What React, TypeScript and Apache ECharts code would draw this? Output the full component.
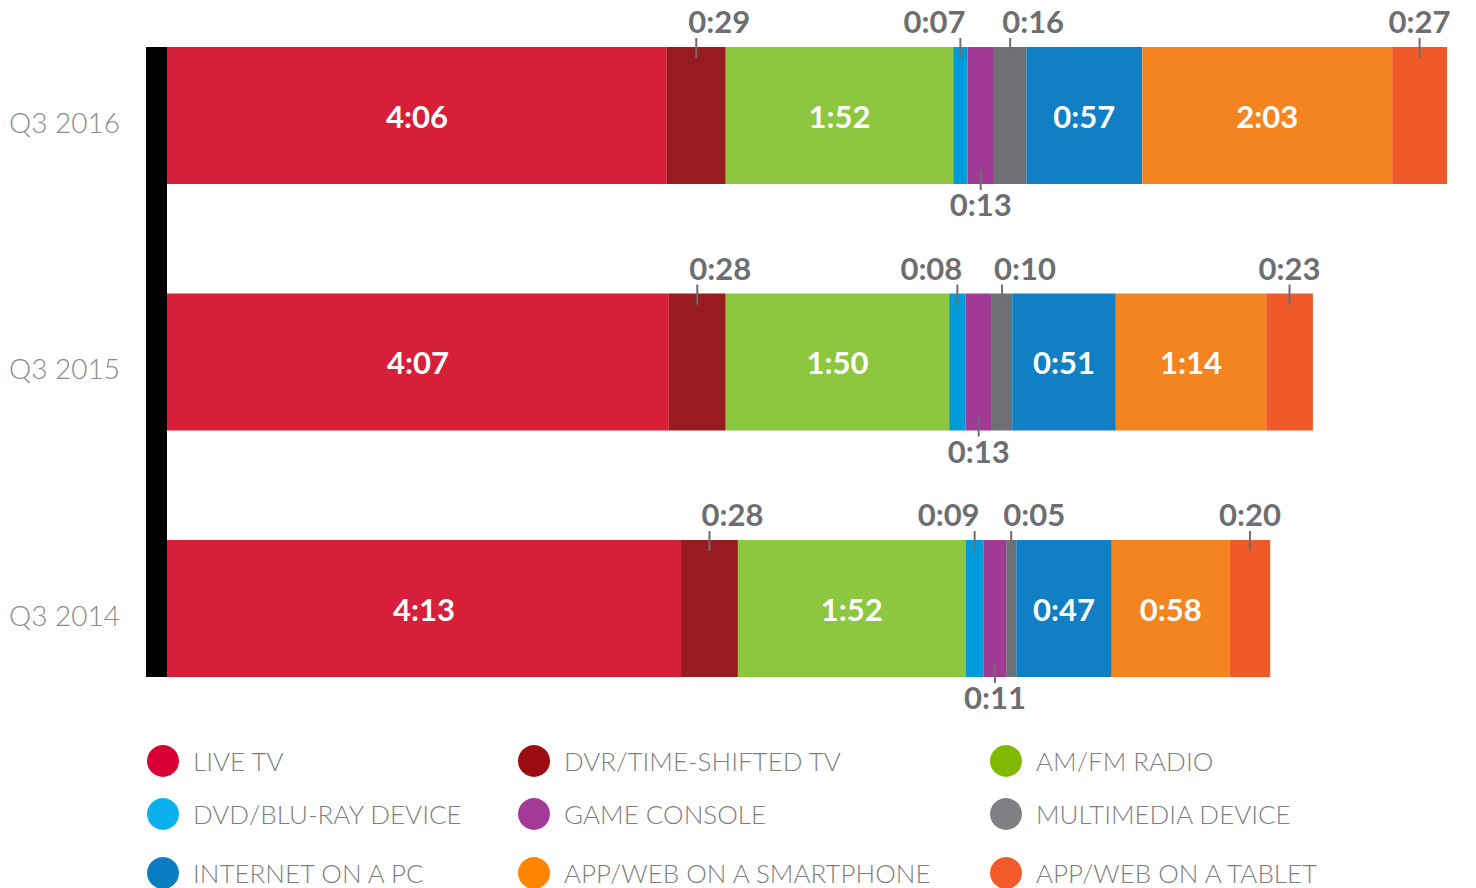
import React, { useEffect, useRef } from "react";
import * as echarts from "echarts";

const categories = ["Q3 2014", "Q3 2015", "Q3 2016"];
const seriesNames = [
  "LIVE TV",
  "DVR/TIME-SHIFTED TV",
  "AM/FM RADIO",
  "DVD/BLU-RAY DEVICE",
  "GAME CONSOLE",
  "MULTIMEDIA DEVICE",
  "INTERNET ON A PC",
  "APP/WEB ON A SMARTPHONE",
  "APP/WEB ON A TABLET",
];
// minutes per day, order: Q3 2014, Q3 2015, Q3 2016
const liveTV = [253, 247, 246];
const dvr = [28, 28, 29];
const radio = [112, 110, 112];
const dvd = [9, 8, 7];
const gameConsole = [11, 13, 13];
const multimedia = [5, 10, 16];
const internetPC = [47, 51, 57];
const smartphone = [58, 74, 123];
const tablet = [20, 23, 27];
const seriesValues = [liveTV, dvr, radio, dvd, gameConsole, multimedia, internetPC, smartphone, tablet];

const barColors = ["#D71F3A", "#981B1F", "#8DC63F", "#009BD8", "#A03A94", "#6F7075", "#107FC3", "#F48420", "#F05A28"];
const legendColors = ["#D90036", "#9B0D12", "#7FBA00", "#0CB0EC", "#A23A96", "#808084", "#0A7DC2", "#FF8500", "#F35A29"];
const insideLabelSeries = [0, 2, 6, 7];
// outside label placement: side, text align, x offset from tick
const outsideLabels: Record<number, { side: string; align: string; dx: number }> = {
  1: { side: "top", align: "left", dx: -8 },
  3: { side: "top", align: "right", dx: 5 },
  4: { side: "bottom", align: "center", dx: 0 },
  5: { side: "top", align: "left", dx: -8 },
  8: { side: "top", align: "center", dx: 0 },
};

const fmt = (m: number) => `${Math.floor(m / 60)}:${String(m % 60).padStart(2, "0")}`;
const BAR_H = 137;
const FONT = "Lato, 'Noto Sans', sans-serif";
const LABEL_GRAY = "#6D6E71";
const LABEL_WEIGHT = "bold";
const LABEL_SIZE = 31;

export default function App() {
  const ref = useRef<HTMLDivElement>(null);
  useEffect(() => {
    document.body.style.margin = "0";
    if (!ref.current) return;
    const chart = echarts.init(ref.current, null, { renderer: "svg" });

    const barSeries = seriesNames.map((name, si) => ({
      name,
      type: "bar",
      stack: "total",
      barWidth: BAR_H,
      clip: false,
      itemStyle: { color: barColors[si] },
      emphasis: { disabled: true },
      label: {
        show: insideLabelSeries.includes(si),
        position: "inside",
        color: "#fff",
        fontFamily: FONT,
        fontWeight: LABEL_WEIGHT,
        fontSize: LABEL_SIZE,
        formatter: (p: any) => fmt(p.value),
      },
      data: seriesValues[si],
    }));

    const annotation = {
      type: "custom",
      name: "annotations",
      silent: true,
      clip: false,
      z: 10,
      data: categories.map((_, i) => [0, i]),
      renderItem: (params: any, api: any) => {
        const ci = params.dataIndex;
        const children: any[] = [];
        let cum = 0;
        const center = api.coord([0, ci]);
        const top = center[1] - BAR_H / 2;
        const bottom = center[1] + BAR_H / 2;
        seriesValues.forEach((vals, si) => {
          const v = vals[ci];
          const x0 = api.coord([cum, ci])[0];
          const x1 = api.coord([cum + v, ci])[0];
          cum += v;
          const cfg = outsideLabels[si];
          if (!cfg) return;
          const xm = (x0 + x1) / 2;
          const isTop = cfg.side === "top";
          children.push({
            type: "line",
            shape: isTop
              ? { x1: xm, y1: top - 9, x2: xm, y2: top + 11 }
              : { x1: xm, y1: bottom - 14, x2: xm, y2: bottom + 6 },
            style: { stroke: LABEL_GRAY, lineWidth: 2 },
          });
          children.push({
            type: "text",
            style: {
              text: fmt(v),
              x: xm + cfg.dx,
              y: isTop ? top - 26 : bottom + 20,
              align: cfg.align,
              verticalAlign: "middle",
              fill: LABEL_GRAY,
              font: `${LABEL_WEIGHT} ${LABEL_SIZE}px ${FONT}`,
            },
          });
        });
        if (ci === 0) {
          const topBar = api.coord([0, categories.length - 1])[1] - BAR_H / 2;
          const x = api.coord([0, ci])[0];
          children.push({
            type: "rect",
            shape: { x: x - 21, y: topBar, width: 21, height: bottom - topBar },
            style: { fill: "#000" },
          });
        }
        return { type: "group", children };
      },
    };

    const cols = [147, 518, 990];
    const rows = [745, 798, 857];
    const legends = seriesNames.map((name, si) => ({
      show: true,
      left: cols[si % 3],
      top: rows[Math.floor(si / 3)],
      orient: "horizontal",
      padding: 0,
      icon: "circle",
      itemWidth: 32,
      itemHeight: 32,
      selectedMode: false,
      textStyle: { fontFamily: FONT, fontSize: 26, fontWeight: 300, color: "#7F7F7F", padding: [0, 0, 0, 9] },
      data: [{ name, itemStyle: { color: legendColors[si] } }],
    }));

    chart.setOption({
      animation: false,
      backgroundColor: "#fff",
      grid: { left: 167, right: 29, top: 115.5, bottom: 888 - 608.5, containLabel: false },
      xAxis: {
        type: "value",
        min: 0,
        max: 630,
        show: false,
      },
      yAxis: {
        type: "category",
        data: categories,
        boundaryGap: false,
        axisLine: { show: false },
        axisTick: { show: false },
        splitLine: { show: false },
        axisLabel: {
          margin: 47,
          fontFamily: FONT,
          fontSize: 28,
          fontWeight: 300,
          color: "#8A8A8A",
          verticalAlign: "top",
          lineHeight: 12,
        },
      },
      legend: legends,
      series: [...barSeries, annotation],
    });
    return () => chart.dispose();
  }, []);
  return <div ref={ref} style={{ width: 1476, height: 888 }} />;
}
